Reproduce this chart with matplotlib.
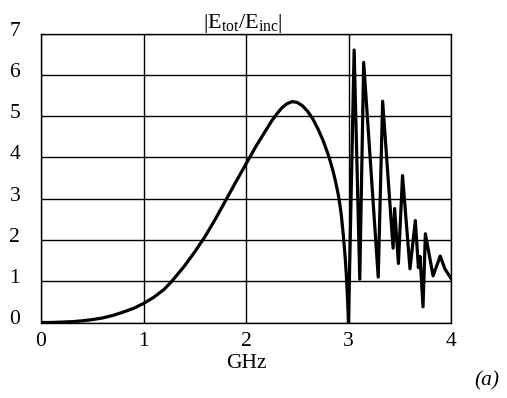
import matplotlib
matplotlib.use("Agg")
import matplotlib.pyplot as plt
from matplotlib.transforms import ScaledTranslation

plt.rcParams['font.family'] = ['Liberation Serif', 'DejaVu Serif']
plt.rcParams['mathtext.fontset'] = 'custom'
plt.rcParams['mathtext.rm'] = 'Liberation Serif'
plt.rcParams['mathtext.it'] = 'Liberation Serif:italic'

# Frequency (GHz) and |Etot/Einc|
freq = [0.0, 0.1, 0.2, 0.3, 0.4, 0.5, 0.6, 0.7, 0.8, 0.9, 1.0, 1.1, 1.2, 1.27, 1.3,
        1.4, 1.5, 1.6, 1.7, 1.8, 1.9, 2.0, 2.1, 2.2, 2.25, 2.3, 2.35, 2.4, 2.45, 2.5,
        2.55, 2.6, 2.65, 2.7, 2.75, 2.8, 2.825, 2.85, 2.875, 2.9, 2.915, 2.93, 2.95,
        2.97, 2.98, 2.99,
        3.0, 3.055, 3.11, 3.148, 3.29, 3.333, 3.435, 3.45, 3.487, 3.527, 3.60,
        3.652, 3.682, 3.698, 3.727, 3.75, 3.825, 3.895, 3.94, 4.0]
ratio = [0.0, 0.0, 0.01, 0.02, 0.04, 0.07, 0.11, 0.17, 0.25, 0.34, 0.46, 0.61, 0.8, 0.98, 1.07,
         1.37, 1.71, 2.08, 2.5, 2.95, 3.4, 3.84, 4.28, 4.68, 4.88, 5.05, 5.2, 5.3, 5.35, 5.33,
         5.25, 5.12, 4.94, 4.7, 4.42, 4.08, 3.88, 3.66, 3.4, 3.1, 2.87, 2.6, 2.1,
         1.5, 1.1, 0.6,
         0.0, 6.6, 1.05, 6.3, 1.1, 5.36, 1.8, 2.76, 1.43, 3.56, 1.3,
         2.47, 1.33, 1.6, 0.38, 2.15, 1.13, 1.61, 1.3, 1.07]

xticks = [0, 1, 2, 3, 4]
yticks = [0, 1, 2, 3, 4, 5, 6, 7]

fig = plt.figure(figsize=(5.07, 3.98), dpi=100)
ax = fig.add_axes([41/507, 1-322.5/398, 410/507, 289/398])
ax.plot(freq, ratio, color='black', lw=2.3, solid_joinstyle='round')
ax.set_xlim(0, 4)
ax.set_ylim(0, 7)
ax.set_xticks(xticks)
ax.set_yticks(yticks)
ax.tick_params(length=0, labelsize=15.5)
ax.tick_params(axis='x', pad=7)
ax.tick_params(axis='y', pad=15)
ax.grid(True, color='black', lw=1)
for s in ax.spines.values():
    s.set_linewidth(1)
    s.set_color('black')
for lab in ax.get_yticklabels():
    lab.set_transform(lab.get_transform() + ScaledTranslation(0, 5/100, fig.dpi_scale_trans))

ax.set_xlabel('GHz', fontsize=15.5, labelpad=2)
fig.text(243/507, 1-28/398, r'|E$_{\rm tot}$/E$_{\rm inc}$|', fontsize=16,
         ha='center', va='baseline')
fig.text(487/507, 1-381/398, '(a)', fontsize=15.5, style='italic', ha='center', va='center')

fig.savefig('out.png', dpi=100)
